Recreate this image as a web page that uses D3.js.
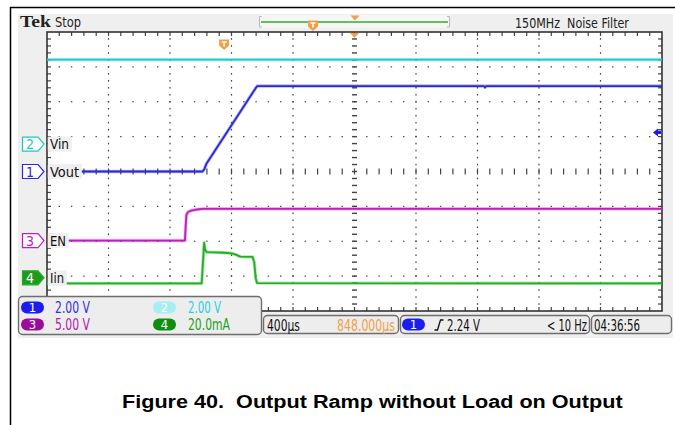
<!DOCTYPE html>
<html><head><meta charset="utf-8">
<script src="https://cdn.jsdelivr.net/npm/d3@7"></script>
<style>body{margin:0;background:#fff}svg{display:block}</style>
</head><body><svg id="c" width="675" height="425"></svg>
<script>
// ---------------- DATA ----------------
const timePerDiv = 400;      // µs / div
const horizPos = 848;        // µs (centre of screen relative to trigger)
const triggerLevel = 2.24;   // V on channel 1

const channelNums   = ["1", "2", "3", "4"];
const channelNames  = ["Vout", "Vin", "EN", "Iin"];
const channelScales = [2, 2, 5, 20];            // units / div
const channelOffsets = [0, 0.786, -1.98, -3.05]; // divisions from centre
const scaleLabels   = ["2.00 V", "2.00 V", "5.00 V", "20.0mA"];

// Ch2 Vin (V)
const vinTime  = [-1152, 2848];
const vinValue = [4.84, 4.84];
// Ch1 Vout (V)
const voutTime  = [-1152, -140, -128, -115, 205, 216, 1690, 1697, 1705, 2848];
const voutValue = [0, 0, 0.15, 0.45, 4.78, 4.9, 4.9, 4.82, 4.9, 4.9];
// Ch3 EN (V)
const enTime  = [-1152, -255, -250, -245, -235, -215, -180, -140, 2848];
const enValue = [0, 0, 2.0, 3.7, 4.1, 4.3, 4.45, 4.55, 4.55];
// Ch4 Iin (mA)
const iinTime  = [-1152, -146, -138, -130, -124, -115, -60, 0, 50, 80, 105, 185, 196, 205, 214, 2848];
const iinValue = [-3.2, -3.2, 8, 20.2, 16.5, 14.8, 14.6, 14.4, 14.1, 13.2, 12.2, 12.0, 9, 0, -3.0, -3.2];

const bottomTexts = ["400µs", "848.000µs", "2.24 V", "< 10 Hz", "04:36:56"];
const captionText = "Figure 40.  Output Ramp without Load on Output";

// ---------------- LAYOUT ----------------
const svg = d3.select("#c");
const X0 = 47, X1 = 662, Y0 = 32, Y1 = 311;
const xDiv = (X1 - X0) / 10, yDiv = (Y1 - Y0) / 8;
const XC = (X0 + X1) / 2, YC = (Y0 + Y1) / 2;
const FONT = "'Liberation Sans Narrow','DejaVu Sans Condensed','Arial Narrow','Liberation Sans',sans-serif";
const C = {
  blue: "#2a2ad2", cyan: "#1ec8c8", mag: "#c01cc0", green: "#22b022",
  pillBlue: "#1c1cf0", pillCyan: "#a6eef0", pillMag: "#9c0c9c", pillGreen: "#0f8f0f",
  txtBlue: "#3030e0", txtCyan: "#22d4e0", txtMag: "#b020b0", txtGreen: "#1ea01e",
  orange: "#f0a048", grid: "#444", bezel: "#efefef"
};
const traceColors = [C.blue, C.cyan, C.mag, C.green];

const x = d3.scaleLinear()
  .domain([horizPos - 5 * timePerDiv, horizPos + 5 * timePerDiv])
  .range([X0, X1]);
const yScales = channelScales.map((s, i) => d3.scaleLinear()
  .domain([(-4 - channelOffsets[i]) * s, (4 - channelOffsets[i]) * s])
  .range([Y1, Y0]));

// text fitted to a width by a geometric horizontal scale
function fitText(parent, s, x0, y0, w, opts) {
  const t = parent.append("text").attr("x", 0).attr("y", 0).text(s)
    .attr("font-family", opts.family || FONT).attr("font-size", opts.size || 14.5)
    .attr("fill", opts.fill || "#111").attr("xml:space", "preserve");
  if (opts.weight) t.attr("font-weight", opts.weight);
  const w0 = t.node().getComputedTextLength() || w;
  t.attr("transform", `translate(${x0},${y0}) scale(${w / w0},1)`);
  return t;
}

// outer page border
svg.append("path").attr("d", "M10.5,425 V7.5 H675").attr("fill", "none")
  .attr("stroke", "#000").attr("stroke-width", 1.5);

// scope bezel
svg.append("rect").attr("x", 18).attr("y", 14).attr("width", 655).attr("height", 324)
  .attr("fill", C.bezel);

// top texts
fitText(svg, "Tek", 20, 27, 31, {family: "'Liberation Serif','DejaVu Serif',serif", weight: "bold", size: 17, fill: "#222"});
fitText(svg, "Stop", 55, 27, 26, {size: 13.5, fill: "#222"});
fitText(svg, "150MHz  Noise Filter", 515, 27.5, 114, {size: 13.5, fill: "#222"});

// record bar
svg.append("rect").attr("x", 259).attr("y", 15).attr("width", 191).attr("height", 13).attr("fill", "#f6f6f6");
svg.append("path").attr("d", "M262,16.5 H259.5 V27 H262 M447,16.5 H449.5 V27 H447")
  .attr("fill", "none").attr("stroke", "#b8b8b8").attr("stroke-width", 1);
svg.append("line").attr("x1", 261).attr("x2", 448).attr("y1", 22).attr("y2", 22)
  .attr("stroke", "#2cb02c").attr("stroke-width", 1.5);

function tMarker(cx, top) {
  const g = svg.append("g");
  g.append("path").attr("d", `M${cx-5},${top} H${cx+5} V${top+6} L${cx},${top+10.5} L${cx-5},${top+6} Z`)
    .attr("fill", C.orange);
  g.append("path").attr("d", `M${cx-2.5},${top+2.5} H${cx+2.5} M${cx},${top+2.5} V${top+7}`)
    .attr("stroke", "#fff").attr("stroke-width", 1.6);
}
function triMarker(cx, top) {
  svg.append("path").attr("d", `M${cx-4.5},${top} H${cx+4.5} L${cx},${top+5} Z`).attr("fill", C.orange);
}
tMarker(313, 20.5);
triMarker(355, 15.5);

// plot area
svg.append("rect").attr("x", X0).attr("y", Y0).attr("width", X1 - X0).attr("height", Y1 - Y0).attr("fill", "#fff");

const grid = svg.append("g").attr("fill", C.grid);
for (let i = 1; i < 10; i++) {
  if (i === 5) continue;
  const gx = X0 + i * xDiv;
  for (let k = 1; k < 40; k++) grid.append("rect").attr("x", gx - 0.6).attr("y", Y0 + k * yDiv / 5 - 0.8).attr("width", 1.2).attr("height", 1.6);
}
for (let j = 1; j < 8; j++) {
  if (j === 4) continue;
  const gy = Y0 + j * yDiv;
  for (let k = 1; k < 50; k++) grid.append("rect").attr("x", X0 + k * xDiv / 5 - 0.7).attr("y", gy - 0.6).attr("width", 1.4).attr("height", 1.2);
}
for (let k = 1; k < 40; k++) grid.append("rect").attr("x", XC - 2.5).attr("y", Y0 + k * yDiv / 5 - 0.7).attr("width", 5).attr("height", 1.4);
for (let k = 1; k < 50; k++) grid.append("rect").attr("x", X0 + k * xDiv / 5 - 0.6).attr("y", YC - 3).attr("width", 1.2).attr("height", 6);
for (let k = 1; k < 50; k++) {
  const tx = X0 + k * xDiv / 5;
  grid.append("rect").attr("x", tx - 0.6).attr("y", Y0).attr("width", 1.2).attr("height", 4);
  grid.append("rect").attr("x", tx - 0.6).attr("y", Y1 - 4).attr("width", 1.2).attr("height", 4);
}
for (let k = 1; k < 40; k++) {
  const ty = Y0 + k * yDiv / 5;
  grid.append("rect").attr("x", X0).attr("y", ty - 0.6).attr("width", 4).attr("height", 1.2);
  grid.append("rect").attr("x", X1 - 4).attr("y", ty - 0.6).attr("width", 4).attr("height", 1.2);
}
svg.append("rect").attr("x", X0).attr("y", Y0).attr("width", X1 - X0).attr("height", Y1 - Y0)
  .attr("fill", "none").attr("stroke", "#333").attr("stroke-width", 1.6);

// markers inside plot
tMarker(x(0), 39.5);
triMarker(XC, 33);

// traces
const traces = [
  [voutTime, voutValue, 0],
  [vinTime, vinValue, 1],
  [enTime, enValue, 2],
  [iinTime, iinValue, 3]
];
[1, 0, 2, 3].forEach(o => {
  const [ts, vs, ch] = traces[o];
  const pts = ts.map((t, i) => [x(t), yScales[ch](vs[i])]);
  const line = d3.line();
  svg.append("path").attr("d", line(pts)).attr("fill", "none")
    .attr("stroke", traceColors[ch]).attr("stroke-opacity", 0.35).attr("stroke-width", 3.4)
    .attr("stroke-linejoin", "round");
  svg.append("path").attr("d", line(pts)).attr("fill", "none")
    .attr("stroke", traceColors[ch]).attr("stroke-width", 1.8).attr("stroke-linejoin", "round");
});

// trigger level arrow (right)
const ty = yScales[0](triggerLevel);
svg.append("path").attr("d", `M653,${ty} L658,${ty-4} V${ty-1.6} H661 V${ty+1.6} H658 V${ty+4} Z`).attr("fill", C.pillBlue);

// channel markers and labels on the left
const markerStroke = [C.blue, C.cyan, C.mag, C.green];
const labelWidths = [34, 24, 21, 19];
channelNums.forEach((n, i) => {
  const cy = yScales[i](0);
  const filled = i === 3;
  svg.append("path").attr("d", `M22.5,${cy-7} H38 L44,${cy} L38,${cy+7} H22.5 Z`)
    .attr("fill", filled ? "#1f9a1f" : "#fff").attr("stroke", markerStroke[i]).attr("stroke-width", 1.2);
  svg.append("text").attr("x", 30).attr("y", cy + 5).attr("text-anchor", "middle").text(n)
    .attr("font-family", FONT).attr("font-size", 14).attr("fill", filled ? "#fff" : markerStroke[i]);
  svg.append("rect").attr("x", X0 + 0.8).attr("y", cy - 7.5).attr("width", labelWidths[i]).attr("height", 15).attr("fill", C.bezel);
  fitText(svg, channelNames[i], X0 + 3, cy + 5, labelWidths[i] - 5, {size: 14, fill: "#111"});
});

// bottom readout boxes
function box(x0, y0, w, h) {
  svg.append("rect").attr("x", x0).attr("y", y0).attr("width", w).attr("height", h).attr("rx", 4)
    .attr("fill", "#ededed").attr("stroke", "#6e6e6e").attr("stroke-width", 1.4);
}
function pill(x0, y0, w, h, fill, label) {
  svg.append("rect").attr("x", x0).attr("y", y0).attr("width", w).attr("height", h).attr("rx", h / 2).attr("fill", fill);
  svg.append("text").attr("x", x0 + w / 2).attr("y", y0 + h - 1.5).attr("text-anchor", "middle").text(label)
    .attr("font-family", FONT).attr("font-size", 13).attr("fill", "#fff");
}
box(18.5, 296.5, 243, 38);
const pillFills = [C.pillBlue, C.pillCyan, C.pillMag, C.pillGreen];
const readTxtFill = [C.txtBlue, C.txtCyan, C.txtMag, C.txtGreen];
const readW = [35, 33, 35, 42];
channelNums.forEach((n, i) => {
  const col = i % 2, row = Math.floor(i / 2);
  const px = col === 0 ? 21 : 153;
  const py = row === 0 ? 301.5 : 318.5;
  pill(px, py, 23, 12, pillFills[i], n);
  fitText(svg, scaleLabels[i], col === 0 ? 55 : 188, py + 11, readW[i], {size: 15, fill: readTxtFill[i]});
});

box(263.5, 315.5, 135, 18);
fitText(svg, bottomTexts[0], 267, 330.5, 33, {size: 15});
fitText(svg, bottomTexts[1], 337, 330.5, 58, {size: 15, fill: C.orange});

box(400.5, 315.5, 189, 18);
pill(402, 318.5, 23, 12, C.pillBlue, "1");
svg.append("path").attr("d", "M434.5,330 H437.5 L440.5,320 H443.5").attr("fill", "none").attr("stroke", "#111").attr("stroke-width", 1.3);
fitText(svg, bottomTexts[2], 447, 330.5, 33, {size: 15});
fitText(svg, bottomTexts[3], 547, 330.5, 40, {size: 15});

box(591.5, 315.5, 80, 18);
fitText(svg, bottomTexts[4], 594, 330.5, 46, {size: 15});

// caption
fitText(svg, captionText, 122, 408, 501, {family: "'Liberation Sans',Arial,sans-serif", weight: "bold", size: 18.5, fill: "#000"});
</script></body></html>
